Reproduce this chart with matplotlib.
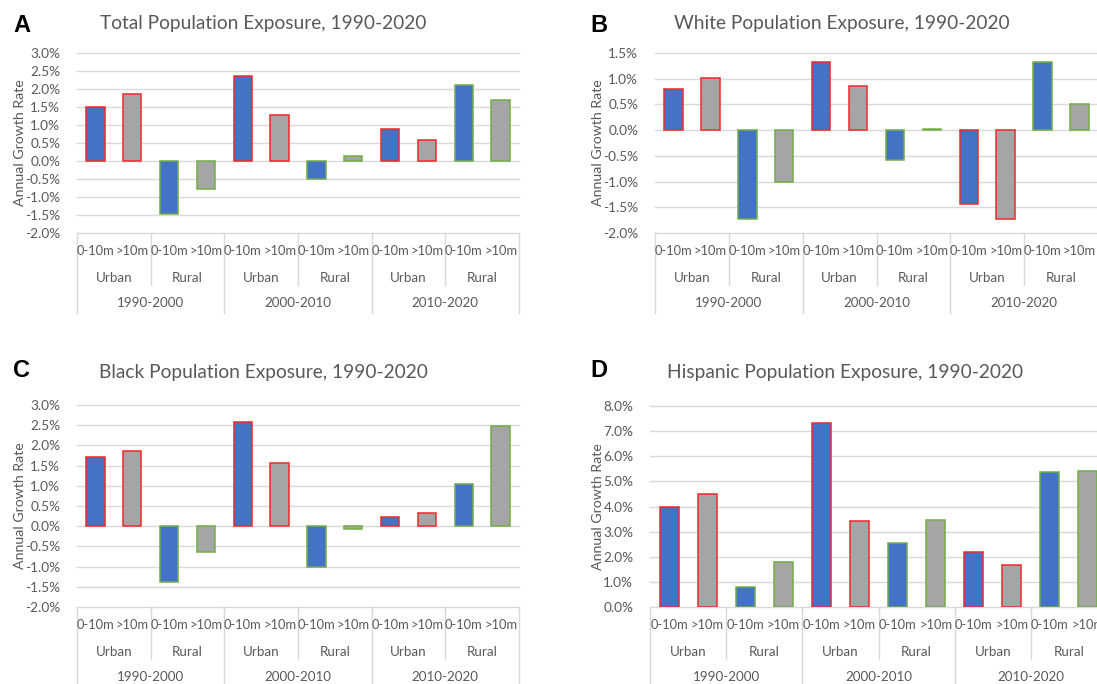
# four-panel bar chart of annual growth rate in population exposure,
# split by period, urban/rural and distance band (0-10m, >10m)

import matplotlib.pyplot as plt
import numpy as np

periods = ['1990-2000', '2000-2010', '2010-2020']
areas = ['Urban', 'Rural']
bands = ['0-10m', '>10m']

# annual growth rate (%), ordered period -> area -> band
total = [1.51, 1.85, -1.47, -0.78, 2.36, 1.27, -0.51, 0.15, 0.89, 0.57, 2.10, 1.70]
white = [0.80, 1.02, -1.72, -1.01, 1.32, 0.85, -0.59, 0.03, -1.44, -1.72, 1.33, 0.51]
black = [1.71, 1.85, -1.39, -0.64, 2.58, 1.57, -1.01, -0.07, 0.24, 0.32, 1.05, 2.47]
hispanic = [4.00, 4.51, 0.79, 1.81, 7.32, 3.44, 2.53, 3.48, 2.18, 1.69, 5.37, 5.41]

series = [total, white, black, hispanic]
titles = ['Total Population Exposure, 1990-2020',
          'White Population Exposure, 1990-2020',
          'Black Population Exposure, 1990-2020',
          'Hispanic Population Exposure, 1990-2020']
letters = ['A', 'B', 'C', 'D']
yticks = [np.arange(-2.0, 3.01, 0.5), np.arange(-2.0, 1.51, 0.5),
          np.arange(-2.0, 3.01, 0.5), np.arange(0.0, 8.01, 1.0)]

W, H = 1097, 684
BLUE, GREY = '#4472C4', '#A5A5A5'
RED, GREEN = '#F02828', '#70AD47'
GRID = '#D9D9D9'
TXT = '#595959'

plt.rc('font', family=['Lato', 'DejaVu Sans'], size=9)
fig = plt.figure(figsize=(W / 100, H / 100), dpi=100)

# panel boxes in pixels: left, top, width, height
boxes = [(77, 53, 442, 180), (655, 53, 443, 180),
         (77, 405, 442, 202), (650, 406, 457, 201)]
title_xy = [(263, 23), (842, 23), (263, 373), (845, 373)]
letter_xy = [(13, 25), (590, 25), (13, 370), (590, 370)]
ylabel_x = [20, 598, 20, 598]

x = np.arange(12)
fills = [BLUE, GREY] * 6
edges = [RED, RED, GREEN, GREEN] * 3

for i in range(4):
    l, t, w, h = boxes[i]
    ax = fig.add_axes([l / W, 1 - (t + h) / H, w / W, h / H])
    ax.bar(x, series[i], width=0.5, color=fills, edgecolor=edges,
           linewidth=1.1, zorder=3)

    # axis look: light horizontal grid only
    ax.set_xlim(-0.5, 11.5)
    ax.set_ylim(yticks[i][0], yticks[i][-1])
    ax.set_yticks(yticks[i])
    ax.set_yticklabels(['%.1f%%' % v for v in yticks[i]], color=TXT, fontsize=9.8)
    ax.tick_params(axis='y', length=0, pad=12)
    ax.set_xticks([])
    for s in ax.spines.values():
        s.set_visible(False)
    for v in yticks[i]:
        ax.axhline(v, color=GRID, lw=1.0, zorder=1, clip_on=False)

    # category table under the plot
    tr = ax.get_xaxis_transform()
    fy = lambda px: -px / h
    for k in range(12):
        ax.text(x[k], fy(18), bands[k % 2], transform=tr, ha='center',
                va='center', color=TXT, fontsize=9.3)
    for k in range(6):
        ax.text(2 * k + 0.5, fy(45), areas[k % 2], transform=tr, ha='center',
                va='center', color=TXT, fontsize=9.6)
    for k in range(3):
        ax.text(4 * k + 1.5, fy(70), periods[k], transform=tr, ha='center',
                va='center', color=TXT, fontsize=9.6)
    for xs in [-0.5, 3.5, 7.5, 11.5]:
        ax.plot([xs, xs], [0, fy(80)], transform=tr, color=GRID, lw=1.0,
                clip_on=False)
    for xs in [1.5, 5.5, 9.5]:
        ax.plot([xs, xs], [0, fy(52)], transform=tr, color=GRID, lw=1.0,
                clip_on=False)

    # titles, panel letters and y labels
    fig.text(title_xy[i][0] / W, 1 - title_xy[i][1] / H, titles[i],
             ha='center', va='center', color=TXT, fontsize=13.8)
    fig.text(letter_xy[i][0] / W, 1 - letter_xy[i][1] / H, letters[i],
             ha='left', va='center', color='black', fontsize=17,
             fontweight='bold', family='Liberation Sans')
    fig.text(ylabel_x[i] / W, 1 - (t + h / 2) / H, 'Annual Growth Rate',
             ha='center', va='center', rotation=90, color=TXT, fontsize=10.2)

fig.savefig('out.png', dpi=100)
